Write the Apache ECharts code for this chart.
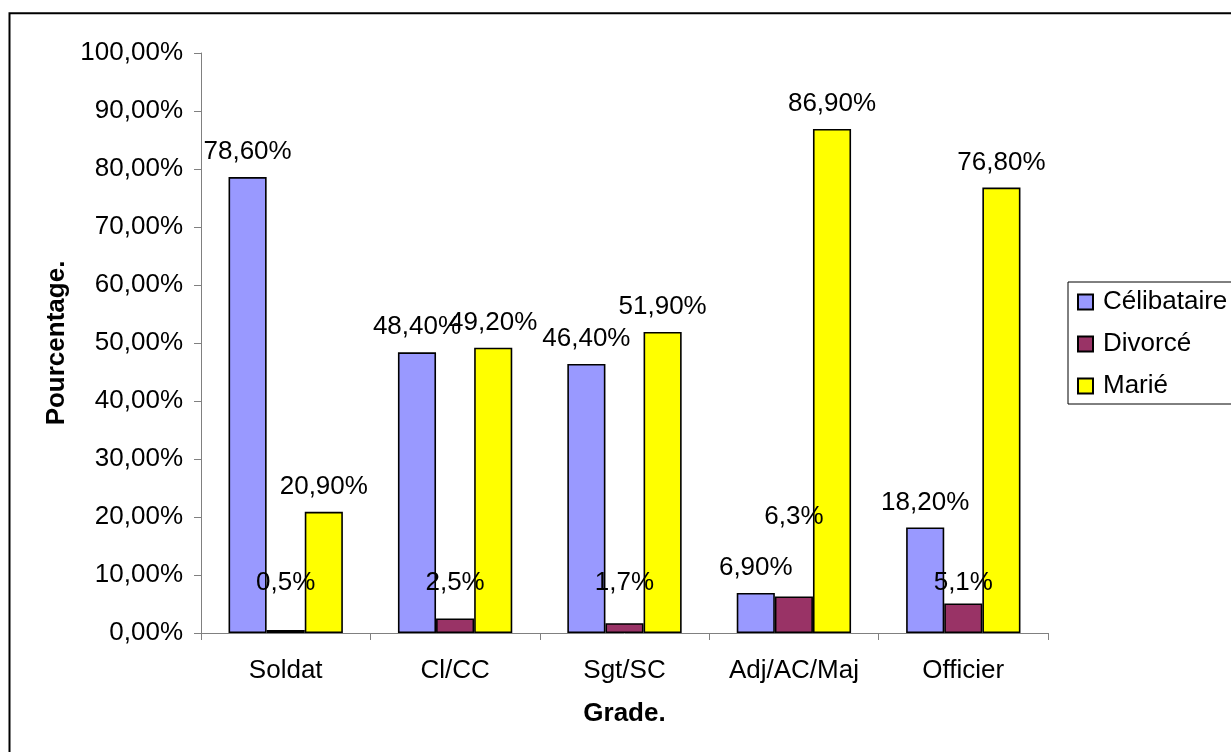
<!DOCTYPE html>
<html>
<head>
<meta charset="utf-8">
<script src="https://cdn.jsdelivr.net/npm/echarts@6/dist/echarts.min.js"></script>
<style>
    html, body { margin: 0; padding: 0; background: #fff; }
    #chart { width: 1231px; height: 752px; }
</style>
</head>
<body>
<div id="chart"></div>
<script>
// grades on the x axis
const grades = ['Soldat', 'Cl/CC', 'Sgt/SC', 'Adj/AC/Maj', 'Officier'];
// values in percent
const celibataire = [78.6, 48.4, 46.4, 6.9, 18.2];
const divorce = [0.5, 2.5, 1.7, 6.3, 5.1];
const marie = [20.9, 49.2, 51.9, 86.9, 76.8];
const yTicks = [0, 10, 20, 30, 40, 50, 60, 70, 80, 90, 100];

// the divorce labels sit higher than the bars in the original (moved by hand)
const divorceLabelLift = [34, 23, 27, 67, 8];

const FONT = 'Liberation Sans, Arial, sans-serif';
const SIZE = 26;

function pct(v, digits) {
    return v.toFixed(digits).replace('.', ',') + '%';
}

const chart = echarts.init(document.getElementById('chart'));

const barBorder = { borderColor: '#000', borderWidth: 1.6 };
const labelBase = { show: true, position: 'top', color: '#000', fontFamily: FONT, fontSize: SIZE };

chart.setOption({
    animation: false,
    textStyle: { fontFamily: FONT },
    graphic: [{
        type: 'rect',
        shape: { x: 9.5, y: 13.3, width: 1400, height: 900 },
        style: { fill: 'none', stroke: '#000', lineWidth: 2 },
        z: 0
    }],
    grid: { left: 201, right: 183, top: 53, bottom: 119 },
    legend: {
        orient: 'vertical',
        left: 1068,
        top: 282,
        padding: [7, 12, 5, 9],
        itemWidth: 15,
        itemHeight: 15,
        itemGap: 16,
        icon: 'rect',
        borderColor: '#000',
        borderWidth: 1,
        textStyle: { fontSize: SIZE, color: '#000', fontFamily: FONT, padding: [0, 0, 0, 5] },
        data: ['Célibataire', 'Divorcé', 'Marié']
    },
    xAxis: {
        type: 'category',
        data: grades,
        name: 'Grade.',
        nameLocation: 'middle',
        nameGap: 68,
        nameTextStyle: { fontWeight: 'bold', fontSize: SIZE, color: '#000' },
        axisLine: { lineStyle: { color: '#808080', width: 1 } },
        axisTick: { show: true, length: 7, lineStyle: { color: '#808080' } },
        axisLabel: { fontSize: SIZE, color: '#000', margin: 25 }
    },
    yAxis: {
        type: 'value',
        min: yTicks[0],
        max: yTicks[yTicks.length - 1],
        interval: yTicks[1] - yTicks[0],
        name: 'Pourcentage.',
        nameLocation: 'middle',
        nameRotate: 90,
        nameGap: 131,
        nameTextStyle: { fontWeight: 'bold', fontSize: SIZE, color: '#000' },
        axisLine: { show: true, lineStyle: { color: '#808080', width: 1 } },
        axisTick: { show: true, length: 7, lineStyle: { color: '#808080' } },
        splitLine: { show: false },
        axisLabel: { fontSize: SIZE, color: '#000', margin: 18, formatter: v => pct(v, 2) }
    },
    series: [
        {
            name: 'Célibataire',
            type: 'bar',
            barGap: '0%',
            barCategoryGap: '32.5%',
            data: celibataire,
            itemStyle: Object.assign({ color: '#9999FF' }, barBorder),
            label: Object.assign({ distance: 12, formatter: p => pct(p.value, 2) }, labelBase)
        },
        {
            name: 'Divorcé',
            type: 'bar',
            barGap: '0%',
            barCategoryGap: '32.5%',
            data: divorce.map((v, i) => ({ value: v, label: { distance: divorceLabelLift[i] } })),
            itemStyle: Object.assign({ color: '#993366' }, barBorder),
            label: Object.assign({ formatter: p => pct(p.value, 1) }, labelBase)
        },
        {
            name: 'Marié',
            type: 'bar',
            barGap: '0%',
            barCategoryGap: '32.5%',
            data: marie,
            itemStyle: Object.assign({ color: '#FFFF00' }, barBorder),
            label: Object.assign({ distance: 12, formatter: p => pct(p.value, 2) }, labelBase)
        }
    ]
});
</script>
</body>
</html>
